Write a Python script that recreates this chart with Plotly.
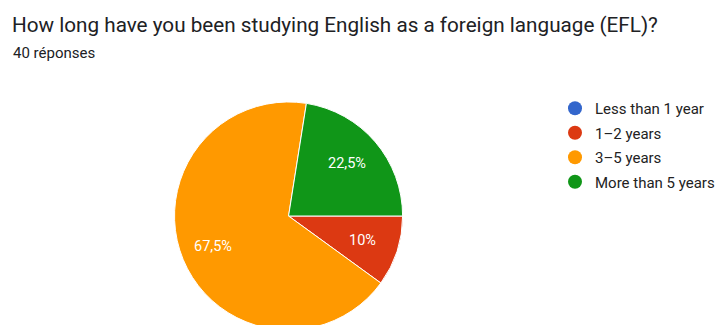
import math
import plotly.graph_objects as go

title = "How long have you been studying English as a foreign language (EFL)?"
subtitle = "40 réponses"
categories = ["Less than 1 year", "1–2 years", "3–5 years", "More than 5 years"]
counts = [0, 4, 27, 9]
colors = ["#3366cc", "#dc3912", "#ff9900", "#109618"]

W, H = 720, 340
total = sum(counts)


def fmt(v):
    s = f"{v / total * 100:g}".replace(".", ",")
    return s + "%"


cx, cy, r = 291, 216, 115
start_deg = 90  # first slice starts at 3 o'clock, clockwise

fig = go.Figure()
fig.add_trace(go.Pie(
    labels=categories,
    values=counts,
    textinfo="none",
    marker=dict(colors=colors, line=dict(color="white", width=1)),
    sort=False,
    direction="clockwise",
    rotation=start_deg,
    showlegend=False,
    hoverinfo="label+percent",
    domain=dict(x=[(cx - r) / W, (cx + r) / W], y=[(H - cy - r) / H, (H - cy + r) / H]),
))

# slice labels placed along each slice's mid-angle
annotations = []
cum = 0
for v in counts:
    if v > 0:
        mid = start_deg + (cum + v / 2) / total * 360
        a = math.radians(mid)
        px = cx - 2 + 0.70 * r * math.sin(a)
        py = cy - 0.70 * r * math.cos(a)
        annotations.append(dict(text=fmt(v), x=px / W, y=1 - py / H, xref="paper", yref="paper",
                                xanchor="center", yanchor="middle", showarrow=False,
                                font=dict(size=14.5, color="white")))
    cum += v

annotations.append(dict(text=subtitle, x=11 / W, y=1 - 53 / H, xref="paper", yref="paper",
                        xanchor="left", yanchor="middle", showarrow=False,
                        font=dict(size=15, color="#202124")))

for cat, col in zip(categories, colors):
    fig.add_trace(go.Scatter(
        x=[None], y=[None], mode="markers", name=cat,
        marker=dict(symbol="circle", size=14, color=col),
        legendgroup=cat, showlegend=True,
    ))

fig.update_layout(
    width=W, height=H,
    margin=dict(l=0, r=0, t=0, b=0),
    paper_bgcolor="white", plot_bgcolor="white",
    font=dict(family="Roboto, Arial, sans-serif", color="#202124"),
    title=dict(text=title, x=12 / W, xanchor="left", y=1 - 25 / H, yanchor="middle",
               font=dict(size=20.7, color="#202124")),
    xaxis=dict(visible=False), yaxis=dict(visible=False),
    legend=dict(x=560 / W, y=1 - 92 / H, xanchor="left", yanchor="top",
                font=dict(size=15, color="#222222"), tracegroupgap=2,
                bgcolor="rgba(0,0,0,0)"),
    annotations=annotations,
)

fig.write_html("out.html", post_script="document.body.style.margin='0';document.body.style.overflow='hidden';")
